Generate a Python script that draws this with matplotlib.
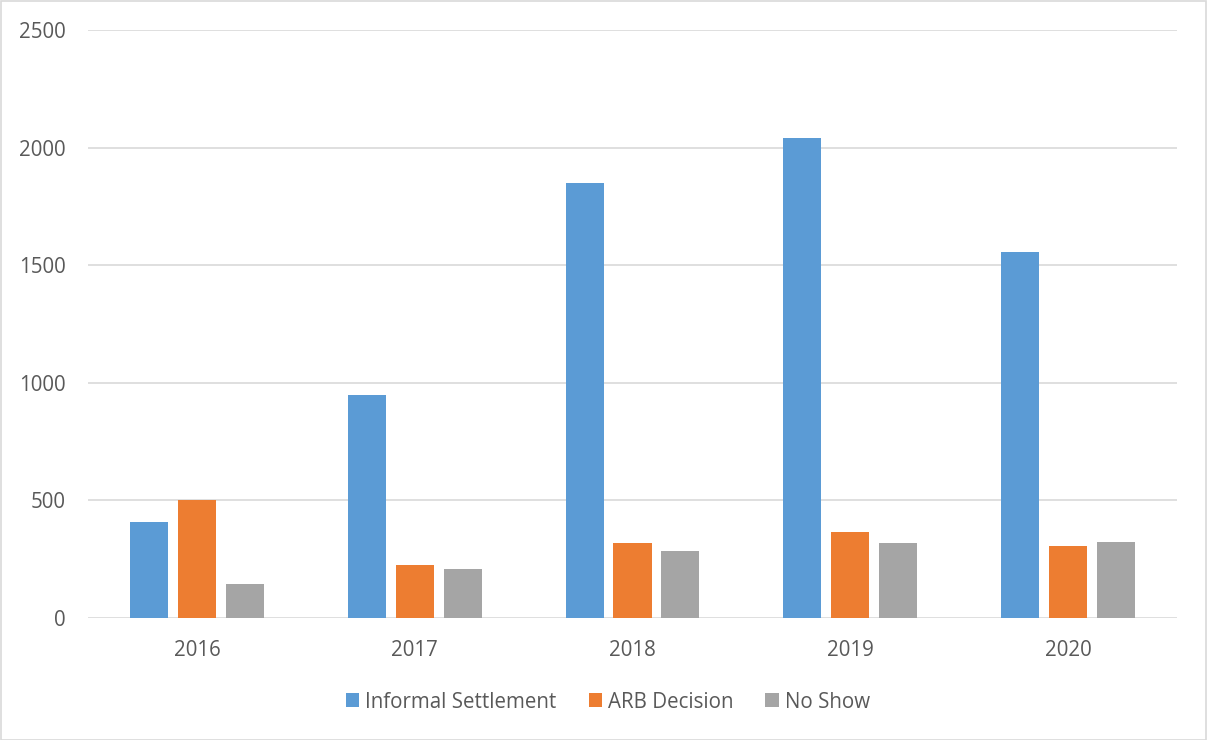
import matplotlib
matplotlib.use("Agg")
import matplotlib.pyplot as plt
import numpy as np
from matplotlib.patches import Rectangle

years = ["2016", "2017", "2018", "2019", "2020"]
informal = [407, 948, 1850, 2040, 1555]
arb = [502, 224, 319, 365, 305]
noshow = [143, 210, 283, 321, 323]
series_names = ["Informal Settlement", "ARB Decision", "No Show"]
colors = ["#5B9BD5", "#ED7D31", "#A5A5A5"]
yticks = [0, 500, 1000, 1500, 2000, 2500]

plt.rcParams['font.family'] = ['Open Sans', 'DejaVu Sans']
W, H = 1207, 740
fig = plt.figure(figsize=(W / 100, H / 100), dpi=100)
ax = fig.add_axes([88 / W, 1 - 618 / H, (1177 - 88) / W, (618 - 30) / H])

x = np.arange(len(years))
width = 0.175
offs = 0.22
for i, (vals, name, c) in enumerate(zip([informal, arb, noshow], series_names, colors)):
    ax.bar(x + (i - 1) * offs, vals, width, color=c, label=name, zorder=3)

ax.set_xlim(-0.5, len(years) - 0.5)
ax.set_ylim(0, 2500)
ax.set_yticks(yticks)
ax.set_yticklabels([str(v) for v in yticks])
ax.set_xticks(x)
ax.set_xticklabels(years)
ax.grid(axis='y', color='#d9d9d9', linewidth=1.2, zorder=0)
for s in ax.spines.values():
    s.set_visible(False)
ax.tick_params(axis='both', length=0, labelsize=14.8, colors='#595959')
ax.tick_params(axis='y', pad=16)
ax.tick_params(axis='x', pad=16)

leg = fig.legend(loc='center', bbox_to_anchor=(608 / W, 1 - 702 / H), ncol=3,
                 frameon=False, fontsize=14.8, handlelength=0.65, handleheight=0.65,
                 handletextpad=0.3, columnspacing=1.55)
for t in leg.get_texts():
    t.set_color('#595959')

fig.patches.append(Rectangle((0.5 / W, 0.5 / H), 1 - 1.5 / W, 1 - 1.5 / H, transform=fig.transFigure,
                             fill=False, edgecolor='#d9d9d9', linewidth=1.2))
fig.savefig("out.png", dpi=100)
